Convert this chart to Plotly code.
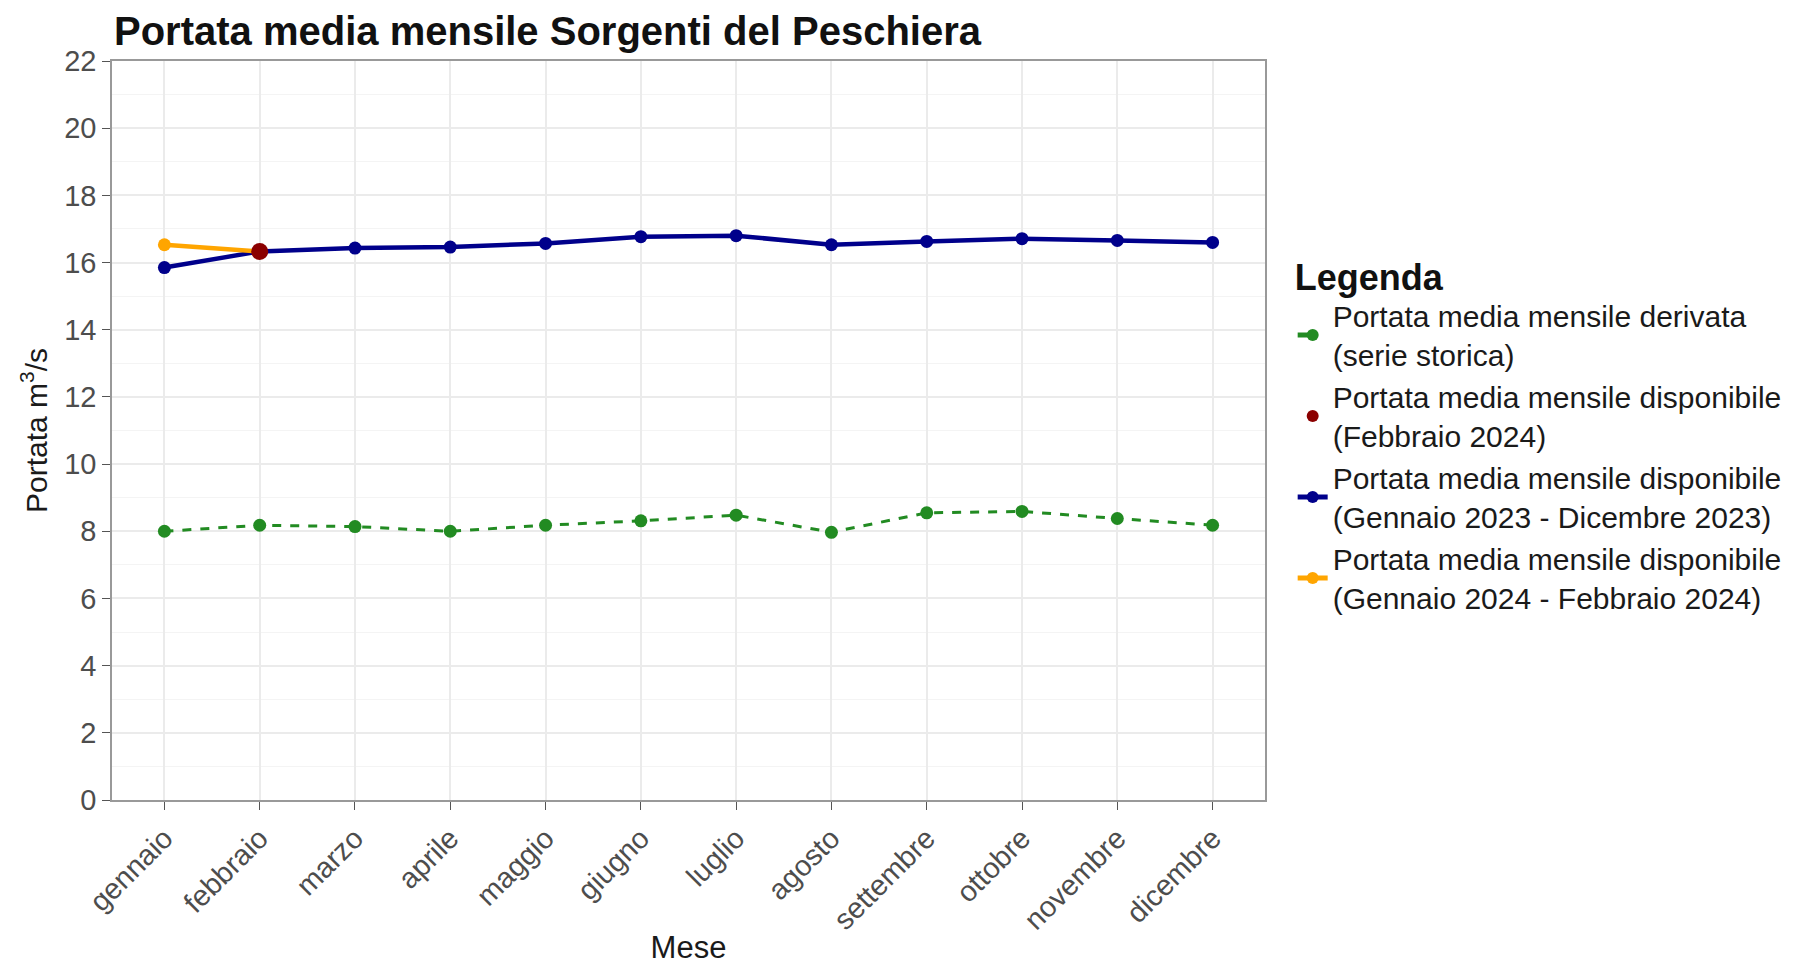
import plotly.graph_objects as go

mesi = ["gennaio", "febbraio", "marzo", "aprile", "maggio", "giugno",
        "luglio", "agosto", "settembre", "ottobre", "novembre", "dicembre"]

storica = [8.00, 8.18, 8.14, 8.00, 8.18, 8.31, 8.48, 7.97, 8.55, 8.59, 8.38, 8.18]
anno_2023 = [15.85, 16.33, 16.43, 16.46, 16.57, 16.77, 16.80, 16.53, 16.63, 16.71, 16.66, 16.60]
mesi_2024 = ["gennaio", "febbraio"]
anno_2024 = [16.53, 16.33]
mese_feb = ["febbraio"]
feb_2024 = [16.33]

names = [
    "Portata media mensile derivata<br>(serie storica)",
    "Portata media mensile disponibile<br>(Febbraio 2024)",
    "Portata media mensile disponibile<br>(Gennaio 2023 - Dicembre 2023)",
    "Portata media mensile disponibile<br>(Gennaio 2024 - Febbraio 2024)",
]

fig = go.Figure()
fig.add_trace(go.Scatter(x=mesi, y=storica, mode="lines+markers", name=names[0],
                         line=dict(color="#228B22", width=3, dash="dash"),
                         marker=dict(size=13, color="#228B22"),
                         legendrank=1, legendgroup="a"))
fig.add_trace(go.Scatter(x=mesi, y=anno_2023, mode="lines+markers", name=names[2],
                         line=dict(color="#00008B", width=4.5),
                         marker=dict(size=13, color="#00008B"),
                         legendrank=3, legendgroup="c"))
fig.add_trace(go.Scatter(x=mesi_2024, y=anno_2024, mode="lines+markers", name=names[3],
                         line=dict(color="#FFA500", width=4.5),
                         marker=dict(size=13, color="#FFA500"),
                         legendrank=4, legendgroup="d"))
fig.add_trace(go.Scatter(x=mese_feb, y=feb_2024, mode="markers", name=names[1],
                         marker=dict(size=17, color="#8B0000"),
                         legendrank=2, legendgroup="b"))

font = "Liberation Sans, Arial, sans-serif"
fig.update_layout(
    width=1803, height=966,
    paper_bgcolor="white", plot_bgcolor="white",
    font=dict(family=font, color="#1a1a1a"),
    margin=dict(l=104, r=546, t=53, b=174),
    title=dict(text="<b>Portata media mensile Sorgenti del Peschiera</b>",
               font=dict(size=40, color="#111"), x=106 / 1803, xanchor="left",
               y=1 - 23 / 966, yanchor="middle", xref="container", yref="container"),
    legend=dict(title=dict(text="<b>Legenda</b>", font=dict(size=36, color="#111")),
                font=dict(size=30, color="#1a1a1a"),
                x=1.024, xanchor="left", y=0.754, yanchor="top",
                tracegroupgap=0, itemsizing="constant"),
    showlegend=True,
)
fig.update_xaxes(
    title=dict(text="Mese", font=dict(size=31, color="#1a1a1a"), standoff=2),
    tickangle=-45, tickfont=dict(size=29, color="#4d4d4d"),
    range=[-0.55, 11.55], showgrid=True, gridcolor="#ebebeb", gridwidth=1.5,
    ticks="outside", ticklen=8, tickcolor="#555", automargin=False,
    showline=True, linecolor="#999", linewidth=1.5, mirror=True, zeroline=False,
)
fig.update_yaxes(
    title=dict(text="Portata m<sup>3</sup>/s", font=dict(size=30, color="#1a1a1a"), standoff=8),
    range=[0, 22], tickvals=list(range(0, 23, 2)), tickfont=dict(size=29, color="#4d4d4d"),
    showgrid=True, gridcolor="#ebebeb", gridwidth=1.5,
    minor=dict(tickvals=list(range(1, 22, 2)), showgrid=True, gridcolor="#f4f4f4", gridwidth=1),
    ticks="outside", ticklen=8, tickcolor="#555", automargin=False,
    showline=True, linecolor="#999", linewidth=1.5, mirror=True, zeroline=False,
)
fig.write_html("out.html")
